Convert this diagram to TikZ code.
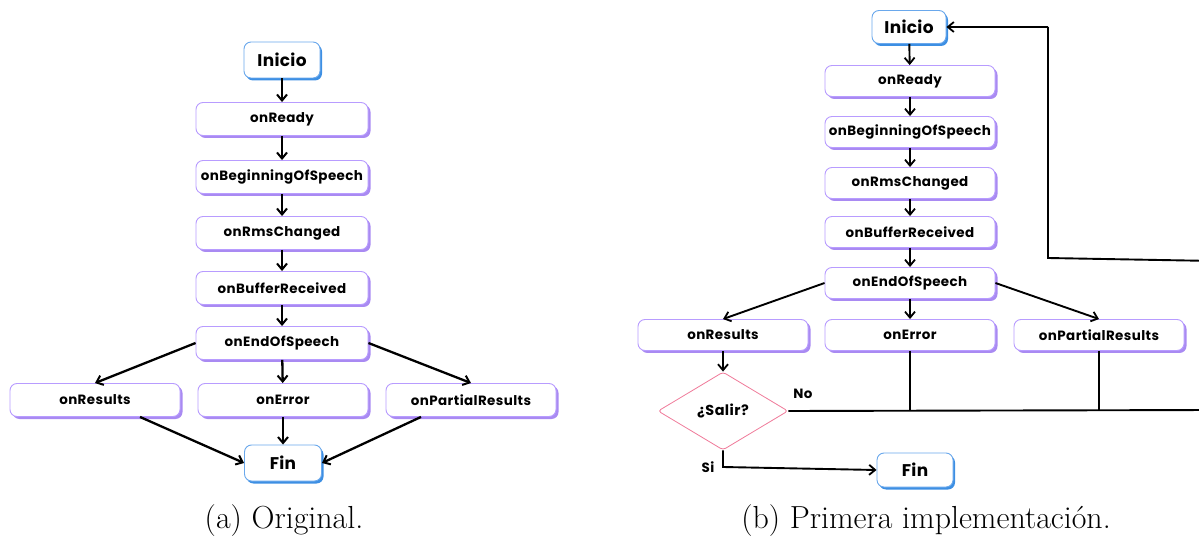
\documentclass[tikz,border=0pt]{standalone}
\usepackage{fontspec}
\newfontfamily\nodefont{Poppins}[LetterSpace=3]
\newfontfamily\termfont{Poppins}[LetterSpace=2]
\usetikzlibrary{arrows.meta,shapes.geometric,shadows}
\definecolor{evb}{HTML}{B89CFF}
\definecolor{evs}{HTML}{A98AF2}
\definecolor{tb}{HTML}{6AA8EC}
\definecolor{ts}{HTML}{3D8FE3}
\definecolor{db}{HTML}{F07A9A}
\begin{document}
\begin{tikzpicture}[x=1bp,y=-1bp,
  ev/.style={draw=evb, fill=white, rounded corners=7bp, line width=0.9bp,
    general shadow={fill=evs, shadow xshift=2.5bp, shadow yshift=-2.5bp},
    font=\nodefont\bfseries\fontsize{13.5}{15}\selectfont, inner sep=0pt},
  evl/.style={ev, minimum width=172bp, minimum height=33bp},
  evr/.style={ev, minimum width=170bp, minimum height=31bp},
  term/.style={draw=tb, fill=white, rounded corners=7bp, line width=0.9bp,
    general shadow={fill=ts, shadow xshift=2bp, shadow yshift=-2.5bp},
    font=\termfont\bfseries\fontsize{17}{19}\selectfont, inner sep=0pt},
  dec/.style={diamond, draw=db, fill=white, line width=0.8bp, rounded corners=3bp,
    minimum width=130bp, minimum height=78bp, inner sep=0pt,
    font=\nodefont\bfseries\fontsize{14.5}{16}\selectfont},
  lbl/.style={font=\nodefont\bfseries\fontsize{13.5}{15}\selectfont, inner sep=0pt},
  arr/.style={-{Straight Barb[length=6bp,width=10bp,line width=2bp]}, line width=2.3bp},
  arrb/.style={-{Straight Barb[length=6bp,width=10bp,line width=1.8bp]}, line width=1.9bp},
  ln/.style={line width=1.9bp},
  capt/.style={font=\fontsize{32}{35}\selectfont, inner sep=0pt}
]
\useasboundingbox (0,0) rectangle (1199,539);
\clip (0,0) rectangle (1199,539);

% ---------- (a) Original ----------
\node[term, minimum width=76bp, minimum height=36bp] (li) at (282,60) {Inicio};
\node[evl] (lr) at (282,119) {onReady};
\node[evl] (lb) at (282,177) {onBeginningOfSpeech};
\node[evl] (lm) at (282,233) {onRmsChanged};
\node[evl] (lf) at (282,288) {onBufferReceived};
\node[evl] (le) at (282,343) {onEndOfSpeech};
\node[evl, minimum width=170bp] (lres) at (95,400) {onResults};
\node[evl, minimum width=170bp] (lerr) at (283,400) {onError};
\node[evl, minimum width=170bp] (lpr) at (471,400) {onPartialResults};
\node[term, minimum width=77bp, minimum height=36bp] (lfin) at (283,463) {Fin};

\draw[arr] (li) -- (lr);
\draw[arr] (lr) -- (lb);
\draw[arr] (lb) -- (lm);
\draw[arr] (lm) -- (lf);
\draw[arr] (lf) -- (le);
\draw[arr] (le.west) -- (lres.north);
\draw[arr] (le) -- (lerr);
\draw[arr] (le.east) -- (lpr.north);
\draw[arr] (lerr) -- (lfin);
\draw[arr] ([xshift=45bp]lres.south) -- (lfin.west);
\draw[arr] ([xshift=-50bp]lpr.south) -- (lfin.east);

\node[capt] (capa) at (284,521) {(a) Original.};

% ---------- (b) Primera implementacion ----------
\node[term, minimum width=74bp, minimum height=33bp] (ri) at (909,27) {Inicio};
\node[evr] (rr) at (910,81) {onReady};
\node[evr] (rb) at (910,132) {onBeginningOfSpeech};
\node[evr] (rm) at (910,183) {onRmsChanged};
\node[evr] (rf) at (910,232) {onBufferReceived};
\node[evr] (re) at (910,283) {onEndOfSpeech};
\node[evr] (rres) at (723,335) {onResults};
\node[evr] (rerr) at (910,335) {onError};
\node[evr] (rpr) at (1099,335) {onPartialResults};
\node[dec] (rd) at (723,411) {¿Salir?};
\node[term, minimum width=76bp, minimum height=34bp] (rfin) at (915,470) {Fin};
\node[lbl] (no) at (803,394) {No};
\node[lbl] (si) at (708,467) {Si};

\coordinate (c1) at (1215,410);
\coordinate (c2) at (1215,261);
\coordinate (c3) at (1048,258);
\coordinate (c4) at (1048,27);
\coordinate (c5) at (723,467);

\draw[arrb] (ri) -- (rr);
\draw[arrb] (rr) -- (rb);
\draw[arrb] (rb) -- (rm);
\draw[arrb] (rm) -- (rf);
\draw[arrb] (rf) -- (re);
\draw[arrb] (re.west) -- (rres.north);
\draw[arrb] (re) -- (rerr);
\draw[arrb] (re.east) -- (rpr.north);
\draw[arrb] (rres) -- (rd);
\draw[ln] (rd.east) -- (c1) -- (c2) -- (c3) -- (c4);
\draw[arrb] (c4) -- (ri.east);
\draw[ln] (rerr.south) -- (rerr.south |- rd.east);
\draw[ln] (rpr.south) -- (rpr.south |- rd.east);
\draw[arrb] (rd.south) -- (c5) -- (rfin.west);

\node[capt] (capb) at (926,521) {(b) Primera implementación.};
\end{tikzpicture}
\end{document}
